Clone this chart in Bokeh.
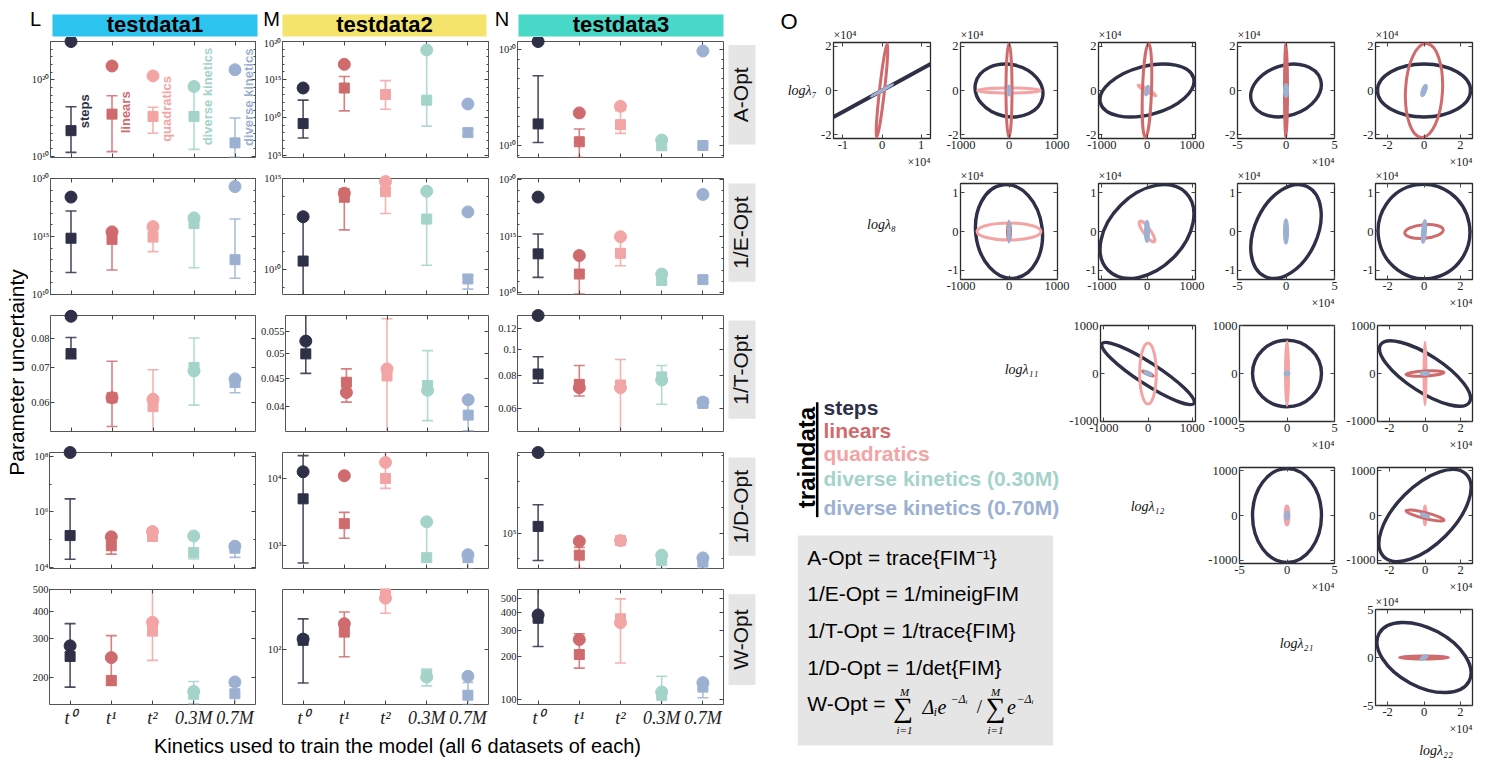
import numpy as np
from bokeh.core.properties import value
from bokeh.embed import file_html
from bokeh.layouts import column, row
from bokeh.models import CustomJSTickFormatter, FixedTicker, LinearAxis, LogAxis, Range1d
from bokeh.plotting import figure
from bokeh.resources import INLINE

SANS = "Liberation Sans"
SERIF = "Liberation Serif"
INK = "#444444"
nan = float("nan")

colors = ["#2d3047", "#cf6b6d", "#f3a4a4", "#a4d3ca", "#9cb1d2"]
series = ["steps", "linears", "quadratics", "diverse kinetics (0.30M)", "diverse kinetics (0.70M)"]
x_labels = ["t⁰", "t¹", "t²", "0.3M", "0.7M"]
criteria = ["A-Opt", "1/E-Opt", "1/T-Opt", "1/D-Opt", "W-Opt"]
testsets = ["testdata1", "testdata2", "testdata3"]
testset_colors = ["#2cc3ef", "#f4e46c", "#47d8c7"]

# ---- testdata1 ----
t1_A_circle = [1.0e25, 6.3e21, 3.2e20, 1.3e19, 2.0e21]
t1_A_square = [2.2e13, 3.2e15, 1.6e15, 1.6e15, 5.6e11]
t1_A_hi = [3.0e16, 7.9e17, 2.5e16, 1.3e19, 1.0e15]
t1_A_lo = [3.2e10, 4.0e10, 1.0e13, 7.9e10, 7.4e9]
t1_A_axis = ((6.8e9, 1.0e25), [1e10, 1e20], ["10¹⁰", "10²⁰"])
t1_A_name_y = [7.4e15, 5.5e15, 1.5e16, 6.3e17, 5.0e17]

t1_E_circle = [2.5e18, 2.5e15, 7.1e15, 4.0e16, 2.0e19]
t1_E_square = [7.1e14, 5.6e14, 8.9e14, 1.3e16, 1.0e13]
t1_E_hi = [1.6e17, 2.5e15, 3.2e15, 4.0e16, 3.2e16]
t1_E_lo = [7.9e11, 1.3e12, 5.0e13, 2.0e12, 2.5e11]
t1_E_axis = ((1e10, 1e20), [1e10, 1e15, 1e20], ["10¹⁰", "10¹⁵", "10²⁰"])

t1_T_circle = [0.0882, 0.0612, 0.0608, 0.0690, 0.0666]
t1_T_square = [0.0746, 0.0612, 0.0588, 0.0701, 0.0655]
t1_T_hi = [0.0802, 0.0721, 0.0694, 0.0800, 0.0666]
t1_T_lo = [0.0729, 0.0538, 0.0520, 0.0592, 0.0626]
t1_T_axis = ((0.0526, 0.0885), [0.06, 0.07, 0.08], ["0.06", "0.07", "0.08"])

t1_D_circle = [1.38e8, 1.26e5, 1.95e5, 1.35e5, 5.8e4]
t1_D_square = [1.4e5, 6.0e4, 1.3e5, 3.4e4, 4.9e4]
t1_D_hi = [2.95e6, 1.26e5, 1.95e5, 1.35e5, 5.8e4]
t1_D_lo = [1.95e4, 3.0e4, 9.8e4, 2.0e4, 2.3e4]
t1_D_axis = ((9.1e3, 1.38e8), [1e4, 1e6, 1e8], ["10⁴", "10⁶", "10⁸"])

t1_W_circle = [279, 247, 356, 174, 192]
t1_W_square = [250, 195, 325, 169, 170]
t1_W_hi = [351, 310, 520, 193, 184]
t1_W_lo = [182, 185, 240, 153, 150]
t1_W_axis = ((152, 500), [200, 300, 400, 500], ["200", "300", "400", "500"])

# ---- testdata2 ----
t2_A_circle = [7.9e13, 1.0e17, nan, 7.9e18, 6.3e11]
t2_A_square = [1.7e9, 7.9e13, 1.1e13, 2.0e12, 1.1e8]
t2_A_hi = [2.0e12, 2.5e15, 7.4e14, 7.9e18, 3.2e8]
t2_A_lo = [2.2e7, 7.9e10, 1.3e11, 7.9e8, 4.0e7]
t2_A_axis = ((6.0e4, 1.0e20), [1e5, 1e10, 1e15, 1e20], ["10⁵", "10¹⁰", "10¹⁵", "10²⁰"])

t2_E_circle = [7.9e12, 1.55e14, 6.8e14, 2.0e14, 1.45e13]
t2_E_square = [2.9e10, 9.3e13, 1.9e14, 5.9e12, 3.0e9]
t2_E_hi = [1.1e13, 2.7e14, 6.8e14, 2.0e14, 4.9e9]
t2_E_lo = [4.0e8, 1.5e12, 1.2e13, 1.7e10, 8.3e8]
t2_E_axis = ((4.2e8, 1.0e15), [1e10, 1e15], ["10¹⁰", "10¹⁵"])

t2_T_circle = [0.0528, 0.0424, 0.0469, 0.0428, 0.0411]
t2_T_square = [0.0500, 0.0443, 0.0455, 0.0437, 0.0385]
t2_T_hi = [0.0600, 0.0469, 0.0581, 0.0507, 0.0416]
t2_T_lo = [0.0460, 0.0407, 0.0355, 0.0376, 0.0360]
t2_T_axis = ((0.0359, 0.0589), [0.04, 0.045, 0.05, 0.055], ["0.04", "0.045", "0.05", "0.055"])

t2_D_circle = [1.26e4, 1.1e4, 1.74e4, 2.24e3, 7.2e2]
t2_D_square = [4.95e3, 2.1e3, 1.0e4, 6.5e2, 6.5e2]
t2_D_hi = [2.2e4, 3.1e3, 2.5e4, 2.24e3, 7.2e2]
t2_D_lo = [5.4e2, 1.27e3, 7.1e3, 5.8e2, 4.4e2]
t2_D_axis = ((447, 2.45e4), [1e3, 1e4], ["10³", "10⁴"])

t2_W_circle = [136, 219, 483, 42, 43]
t2_W_square = [131, 169, 550, 45, 24]
t2_W_hi = [254, 315, 640, 54, 35.5]
t2_W_lo = [35, 79, 302, 32, 18]
t2_W_axis = ((18, 631), [100], ["10²"])

# ---- testdata3 ----
t3_A_circle = [6.9e20, 2.6e13, 1.26e14, 3.9e10, 7.1e19]
t3_A_square = [1.86e12, 2.6e10, 1.55e12, 1.0e10, 1.07e10]
t3_A_hi = [1.9e17, 5.5e11, 4.6e13, 3.9e10, 1.74e10]
t3_A_lo = [2.2e10, 6.0e8, 1.95e11, 4.5e9, 6.6e9]
t3_A_axis = ((6.0e8, 6.9e20), [1e10, 1e20], ["10¹⁰", "10²⁰"])

t3_E_circle = [2.7e18, 1.9e13, 8.7e14, 4.5e11, 4.6e18]
t3_E_square = [2.7e13, 4.5e11, 3.0e13, 1.2e11, 1.45e11]
t3_E_hi = [1.5e15, 1.9e13, 8.7e14, 4.5e11, 2.8e11]
t3_E_lo = [2.3e11, 7.9e9, 2.4e12, 7.4e10, 7.4e10]
t3_E_axis = ((7.1e9, 1.17e20), [1e10, 1e15, 1e20], ["10¹⁰", "10¹⁵", "10²⁰"])

t3_T_circle = [0.1338, 0.0717, 0.0717, 0.0766, 0.0633]
t3_T_square = [0.0807, 0.0738, 0.0734, 0.0787, 0.0626]
t3_T_hi = [0.0937, 0.0869, 0.0915, 0.0869, 0.0655]
t3_T_lo = [0.0746, 0.0667, 0.0480, 0.0621, 0.0604]
t3_T_axis = ((0.0491, 0.1338), [0.06, 0.08, 0.1, 0.12], ["0.06", "0.08", "0.1", "0.12"])

t3_D_circle = [1.26e8, 4.8e4, 5.1e4, 1.4e4, 1.1e4]
t3_D_square = [1.8e5, 1.4e4, 5.1e4, 8.7e3, 7.6e3]
t3_D_hi = [1.23e6, 2.8e4, 6.8e4, 1.4e4, 1.1e4]
t3_D_lo = [8.7e3, 4.3e3, 3.6e4, 4.3e3, 4.3e3]
t3_D_axis = ((4.3e3, 1.26e8), [1e5], ["10⁵"])

t3_W_circle = [385, 260, 340, 113, 131]
t3_W_square = [365, 205, 362, 107, 122]
t3_W_hi = [600, 285, 497, 145, 131]
t3_W_lo = [233, 165, 179, 90, 103]
t3_W_axis = ((92.5, 577), [100, 200, 300, 400, 500], ["100", "200", "300", "400", "500"])

panels = [
    [(t1_A_circle, t1_A_square, t1_A_hi, t1_A_lo, t1_A_axis),
     (t2_A_circle, t2_A_square, t2_A_hi, t2_A_lo, t2_A_axis),
     (t3_A_circle, t3_A_square, t3_A_hi, t3_A_lo, t3_A_axis)],
    [(t1_E_circle, t1_E_square, t1_E_hi, t1_E_lo, t1_E_axis),
     (t2_E_circle, t2_E_square, t2_E_hi, t2_E_lo, t2_E_axis),
     (t3_E_circle, t3_E_square, t3_E_hi, t3_E_lo, t3_E_axis)],
    [(t1_T_circle, t1_T_square, t1_T_hi, t1_T_lo, t1_T_axis),
     (t2_T_circle, t2_T_square, t2_T_hi, t2_T_lo, t2_T_axis),
     (t3_T_circle, t3_T_square, t3_T_hi, t3_T_lo, t3_T_axis)],
    [(t1_D_circle, t1_D_square, t1_D_hi, t1_D_lo, t1_D_axis),
     (t2_D_circle, t2_D_square, t2_D_hi, t2_D_lo, t2_D_axis),
     (t3_D_circle, t3_D_square, t3_D_hi, t3_D_lo, t3_D_axis)],
    [(t1_W_circle, t1_W_square, t1_W_hi, t1_W_lo, t1_W_axis),
     (t2_W_circle, t2_W_square, t2_W_hi, t2_W_lo, t2_W_axis),
     (t3_W_circle, t3_W_square, t3_W_hi, t3_W_lo, t3_W_axis)],
]

# ---- panel O: confidence ellipses ----
lam_names = ["logλ₇", "logλ₈", "logλ₁₁", "logλ₁₂", "logλ₂₁", "logλ₂₂"]
lam_half = [2.17e4, 1.24e4, 1010, 1075, 5.0e4, 2.67e4]
lam_ticks = [[-2e4, 0, 2e4], [-1e4, 0, 1e4], [-1000, 0, 1000], [-1000, 0, 1000], [-5e4, 0, 5e4], [-2e4, 0, 2e4]]
lam_scale = [1e4, 1e4, 1, 1, 1e4, 1e4]

ell_panels = [(0, 0), (0, 1), (0, 2), (0, 3), (0, 4), (1, 1), (1, 2), (1, 3), (1, 4),
              (2, 2), (2, 3), (2, 4), (3, 3), (3, 4), (4, 4)]
steps_w = [76700, 1427, 2138, 74600, 51300, 1387, 2434, 64300, 50500, 2481, 72600, 59500, 72600, 65550, 56100]
steps_h = [300, 23560, 21810, 22680, 23990, 24330, 19240, 25680, 24430, 447, 1401, 772, 2101, 1297, 60510]
steps_ang = [28.7, -12, 15, 18, 0, 7, 45, -25, 10, -33, 0, -33, 0, 45, -28]
linears_w = [1280, 125, 200, 3090, 20370, 62, nan, 2060, 21250, 266, nan, 21250, nan, 22020, 26980]
linears_h = [42770, 42500, 42500, 42500, 42500, 4390, nan, 5000, 3510, 42, nan, 105, nan, 134, 3125]
linears_ang = [-6.5, 0, -2, 0, -3, 0, nan, 0, 5, -25, nan, 3, nan, -14, 0]
quadratics_w = [nan, 1312, 457, nan, nan, 1333, 155, nan, nan, 377, 3090, 1100, 4120, 1100, nan]
quadratics_h = [nan, 2260, 1356, nan, nan, 4390, 6460, nan, nan, 1284, 1338, 1313, 425, 425, nan]
quadratics_ang = [nan, 0, -30, nan, nan, 0, 35, nan, nan, 0, 0, 0, 0, 0, nan]
d03_w = [nan, nan, nan, nan, nan, nan, nan, nan, 800, nan, nan, nan, nan, nan, nan]
d03_h = [nan, nan, nan, nan, nan, nan, nan, nan, 4000, nan, nan, nan, nan, nan, nan]
d03_ang = [nan, nan, nan, nan, nan, nan, nan, nan, -5, nan, nan, nan, nan, nan, nan]
d07_w = [6390, 42, 44, 3090, 1650, 21, 66, 3090, 1650, 155, 4120, 4070, 3090, 4400, 3850]
d07_h = [270, 4070, 4070, 5425, 4970, 5425, 5270, 6100, 5680, 42, 63, 42, 157, 45, 2080]
d07_ang = [28.7, 0, -15, 0, -20, 0, 0, 0, -5, -25, 0, 0, 0, -20, 30]

ell_w = [steps_w, linears_w, quadratics_w, d03_w, d07_w]
ell_h = [steps_h, linears_h, quadratics_h, d03_h, d07_h]
ell_ang = [steps_ang, linears_ang, quadratics_ang, d03_ang, d07_ang]

EMPTY = CustomJSTickFormatter(code="return '';")


def pick_fmt(tick_values, tick_labels):
    return CustomJSTickFormatter(args=dict(tv=list(tick_values), tl=list(tick_labels)), code="""
        let best = 0, bd = Infinity;
        for (let i = 0; i < tv.length; i++) {
            const d = Math.abs(Math.log(tick / tv[i]));
            if (d < bd) { bd = d; best = i; }
        }
        return tl[best];
    """)


def inward(ax, size="10.5px", style="normal", standoff=2):
    ax.axis_line_color = None
    ax.major_tick_in = 4
    ax.major_tick_out = 0
    ax.minor_tick_in = 2
    ax.minor_tick_out = 0
    ax.major_tick_line_color = INK
    ax.minor_tick_line_color = INK
    ax.major_label_standoff = standoff
    ax.major_label_text_font = SERIF
    ax.major_label_text_font_style = style
    ax.major_label_text_font_size = size
    ax.major_label_text_color = "#222222"


def hidden(ax):
    inward(ax, "0px", standoff=0)
    ax.formatter = EMPTY


def blank_fig(w, h):
    p = figure(width=w, height=h, x_range=Range1d(0, w), y_range=Range1d(h, 0),
               x_axis_location=None, y_axis_location=None, min_border=0,
               output_backend="svg", toolbar_location=None)
    p.grid.visible = False
    p.outline_line_color = None
    return p


def ov_text(p, x, y, text, font=SERIF, size="12px", style="normal", color="#222222", **kw):
    # overlay level so that the text may sit outside the frame
    p.text(x=[x], y=[y], text=[text], text_font=value(font), text_font_size=size,
           text_font_style=style, text_color=color, level="overlay", **kw)


# ---------------- left block (panels L, M, N) ----------------
COLS = [(229, 21, 2, 1), (235, 25, 4, 1), (235, 25, 4, 1)]
ROW_TOP = [4, 6, 6, 6, 6]
ROW_BOT = [15, 15, 15, 15, 25]
xs = [1, 2, 3, 4, 5]


def scatter_fig(ri, ci):
    circ, sq, hi, lo, (yr, ticks, tlabels) = panels[ri][ci]
    width, lb, rb, so = COLS[ci]
    tb, bb = ROW_TOP[ri], ROW_BOT[ri]
    p = figure(width=width, height=tb + 116 + bb, y_axis_type="log",
               x_range=Range1d(0.5, 5.5), y_range=Range1d(*yr),
               min_border_left=lb, min_border_right=rb, min_border_top=tb, min_border_bottom=bb,
               output_backend="svg", toolbar_location=None)
    p.grid.visible = False
    p.outline_line_color = "#555555"
    p.outline_line_width = 1

    decade = all(abs(np.log10(t) - round(np.log10(t))) < 1e-9 for t in ticks)
    minor = []
    if decade:
        k0, k1 = int(np.floor(np.log10(yr[0]))), int(np.ceil(np.log10(yr[1])))
        minor = [10.0 ** k for k in range(k0, k1 + 1) if yr[0] <= 10.0 ** k <= yr[1] and 10.0 ** k not in ticks]
    yticker = FixedTicker(ticks=ticks, minor_ticks=minor)
    xticker = FixedTicker(ticks=xs)

    yax = p.yaxis[0]
    yax.ticker = yticker
    yax.formatter = pick_fmt(ticks, tlabels)
    inward(yax, standoff=so)
    xax = p.xaxis[0]
    xax.ticker = xticker
    if ri == 4:
        xax.formatter = CustomJSTickFormatter(args=dict(cats=x_labels),
                                              code="return cats[Math.round(tick) - 1] || '';")
        inward(xax, "18px", "italic", 3)
    else:
        hidden(xax)
    top = LinearAxis(ticker=xticker)
    hidden(top)
    p.add_layout(top, "above")
    right = LogAxis(ticker=yticker)
    hidden(right)
    p.add_layout(right, "right")

    p.segment(x0=xs, y0=lo, x1=xs, y1=hi, line_color=colors, line_width=1.6, line_alpha=0.85)
    for ends in (hi, lo):
        p.scatter(xs, ends, marker="dash", size=11, line_color=colors, line_width=1.6, line_alpha=0.85)
    p.scatter(xs, sq, marker="square", size=10, color=colors, level="overlay")
    p.scatter(xs, circ, marker="circle", size=12, color=colors, level="overlay")

    if ri == 0 and ci == 0:
        p.text(x=xs, y=t1_A_name_y, text=["steps", "linears", "quadratics", "diverse kinetics", "diverse kinetics"],
               angle=np.pi / 2, x_offset=13, text_align="center", text_baseline="middle",
               text_font=value(SANS), text_font_style="bold", text_font_size="13px", text_color=colors)
    return p


def crit_fig(ri):
    tb = ROW_TOP[ri]
    p = blank_fig(30, tb + 116 + ROW_BOT[ri])
    p.quad(left=1, right=28, top=tb, bottom=tb + 116, fill_color="#e5e5e5", line_color=None)
    p.text(x=[13], y=[tb + 58], text=[criteria[ri]], angle=np.pi / 2, text_align="center",
           text_baseline="middle", text_font=value(SANS), text_font_size="21px", text_color="#111111")
    return p


header = blank_fig(757, 37)
header.quad(left=[52, 282, 518], right=[257, 486, 723], top=[14, 14, 14], bottom=[36, 36, 36],
            fill_color=testset_colors, line_color=None)
header.text(x=[154.5, 384, 620.5], y=[24, 24, 24], text=testsets, text_align="center",
            text_baseline="middle", text_font=value(SANS), text_font_style="bold",
            text_font_size="22px", text_color="#000000")
header.text(x=[35, 271, 501.5], y=[18.5, 18.5, 18.5], text=["L", "M", "N"], text_align="center",
            text_baseline="middle", text_font=value(SANS), text_font_size="20px", text_color="#000000")

ylab = blank_fig(28, 693)
ylab.text(x=[15.5], y=[335], text=["Parameter uncertainty"], angle=np.pi / 2, text_align="center",
          text_baseline="middle", text_font=value(SANS), text_font_size="21px", text_color="#000000")

xlab = blank_fig(757, 29)
xlab.text(x=[397], y=[15], text=["Kinetics used to train the model (all 6 datasets of each)"],
          text_align="center", text_baseline="middle", text_font=value(SANS),
          text_font_size="20px", text_color="#000000")

left_rows = [row(scatter_fig(ri, 0), scatter_fig(ri, 1), scatter_fig(ri, 2), crit_fig(ri)) for ri in range(5)]
left_block = column(header, row(ylab, column(*left_rows)), xlab)


# ---------------- right block (panel O) ----------------
def lam_fmt(scale):
    return CustomJSTickFormatter(args=dict(sc=scale), code="return String(Math.round(tick / sc));")


def ellipse_fig(r, c, width, lb, rb, top, bottom):
    xv, yv = c + 1, r
    xh, yh = lam_half[xv], lam_half[yv]
    p = figure(width=width, height=top + 96 + bottom, x_range=Range1d(-xh, xh), y_range=Range1d(-yh, yh),
               min_border_left=lb, min_border_right=rb, min_border_top=top, min_border_bottom=bottom,
               output_backend="svg", toolbar_location=None)
    p.grid.visible = False
    p.outline_line_color = "#2a2a2a"
    p.outline_line_width = 1.3
    xt, yt = FixedTicker(ticks=lam_ticks[xv]), FixedTicker(ticks=lam_ticks[yv])
    xax, yax = p.xaxis[0], p.yaxis[0]
    xax.ticker, yax.ticker = xt, yt
    xax.formatter, yax.formatter = lam_fmt(lam_scale[xv]), lam_fmt(lam_scale[yv])
    inward(xax, "12.5px", standoff=2)
    inward(yax, "12.5px", standoff=2)
    ta, ra = LinearAxis(ticker=xt), LinearAxis(ticker=yt)
    hidden(ta)
    hidden(ra)
    p.add_layout(ta, "above")
    p.add_layout(ra, "right")

    k = ell_panels.index((r, c))
    for s in [0, 2, 1, 3, 4]:
        w, h, a = ell_w[s][k], ell_h[s][k], ell_ang[s][k]
        if np.isnan(w):
            continue
        p.ellipse(x=0, y=0, width=w, height=h, angle=a, angle_units="deg", fill_color=None,
                  line_color=colors[s], line_width=3.4 if s == 0 else 3)

    if lam_scale[yv] > 1:
        ov_text(p, -xh, yh, "×10⁴", size="12px", y_offset=-1, text_align="left", text_baseline="bottom")
    if lam_scale[xv] > 1:
        ov_text(p, xh, -yh, "×10⁴", size="12px", y_offset=16, text_align="right", text_baseline="top")
    if r == 0 and c == 0:
        ov_text(p, -xh, 0, lam_names[0], size="14px", style="italic", color="#111111",
                x_offset=-17, text_align="right", text_baseline="middle")
        ov_text(p, -xh, yh, "O", font=SANS, size="22px", color="#000000",
                x_offset=-53, y_offset=-34, text_align="left", text_baseline="top")
    if r == 4 and c == 4:
        ov_text(p, 0, -yh, lam_names[5], size="14px", style="italic", color="#111111",
                x_offset=12, y_offset=45, text_align="center", text_baseline="middle")
    return p


def lam_label_fig(w, h, x, y, name):
    p = blank_fig(w, h)
    p.text(x=[x], y=[y], text=[name], text_align="center", text_baseline="middle",
           text_font=value(SERIF), text_font_style="italic", text_font_size="14px", text_color="#111111")
    return p


band0 = row(ellipse_fig(0, 0, 187, 76, 14, 42, 30), ellipse_fig(0, 1, 138, 16, 25, 42, 30),
            ellipse_fig(0, 2, 139, 16, 26, 42, 30), ellipse_fig(0, 3, 138, 16, 25, 42, 30),
            ellipse_fig(0, 4, 125, 16, 12, 42, 30))
band1 = row(lam_label_fig(187, 142, 124, 60, lam_names[1]),
            ellipse_fig(1, 1, 138, 16, 25, 15, 31), ellipse_fig(1, 2, 139, 16, 26, 15, 31),
            ellipse_fig(1, 3, 138, 16, 25, 15, 31), ellipse_fig(1, 4, 125, 16, 12, 15, 31))
band2 = row(ellipse_fig(2, 2, 139, 32, 10, 15, 32), ellipse_fig(2, 3, 138, 32, 9, 15, 32),
            ellipse_fig(2, 4, 141, 32, 12, 15, 32))
band3 = row(lam_label_fig(139, 141, 81, 57, lam_names[3]),
            ellipse_fig(3, 3, 138, 32, 9, 14, 31), ellipse_fig(3, 4, 141, 32, 12, 14, 31))
band4 = row(lam_label_fig(293, 165, 230, 59, lam_names[4]), ellipse_fig(4, 4, 125, 16, 12, 15, 54))

# legend + formula box (lower-left corner of panel O)
big = blank_fig(309, 449)
big.text(x=[264], y=[59], text=[lam_names[2]], text_align="center", text_baseline="middle",
         text_font=value(SERIF), text_font_style="italic", text_font_size="14px", text_color="#111111")
big.text(x=[49], y=[147], text=["traindata"], angle=np.pi / 2, text_align="center", text_baseline="middle",
         text_font=value(SANS), text_font_style="bold", text_font_size="24px", text_color="#000000")
big.segment(x0=[59.7], y0=[91.7], x1=[59.7], y1=[206.7], line_color="#000000", line_width=2.5)
big.text(x=[66] * 5, y=[96.7, 120, 143.3, 168.3, 196.7], text=series, text_align="left",
         text_baseline="middle", text_font=value(SANS), text_font_style="bold",
         text_font_size="21px", text_color=colors)
big.quad(left=40.3, right=295.7, top=225, bottom=435, fill_color="#e5e5e5", line_color=None)
big.text(x=[49.7] * 5, y=[246.7, 283.3, 320, 357.3, 393.3],
         text=["A-Opt = trace{FIM⁻¹}", "1/E-Opt  =  1/mineigFIM", "1/T-Opt = 1/trace{FIM}",
               "1/D-Opt  = 1/det{FIM}", "W-Opt ="],
         text_align="left", text_baseline="middle", text_font=value(SANS), text_font_size="21px",
         text_color="#000000")
big.text(x=[145.5, 238], y=[396.7, 396.7], text=["∑", "∑"], text_align="center", text_baseline="middle",
         text_font=value(SERIF), text_font_size="28px", text_color="#000000")
big.text(x=[147, 147, 238, 238], y=[381, 419, 381, 419], text=["M", "i=1", "M", "i=1"],
         text_align="center", text_baseline="middle", text_font=value(SERIF), text_font_style="italic",
         text_font_size="11px", text_color="#000000")
big.text(x=[165, 249.5], y=[396, 396], text=["Δᵢe", "e"], text_align="left", text_baseline="middle",
         text_font=value(SERIF), text_font_style="italic", text_font_size="20px", text_color="#000000")
big.text(x=[193, 259], y=[388, 388], text=["−Δᵢ", "−Δᵢ"], text_align="left", text_baseline="middle",
         text_font=value(SERIF), text_font_style="italic", text_font_size="12px", text_color="#000000")
big.text(x=[222], y=[396], text=["/"], text_align="center", text_baseline="middle",
         text_font=value(SERIF), text_font_size="19px", text_color="#000000")

right_block = column(band0, band1, row(big, column(band2, band3, band4)))

page = row(left_block, right_block)
open("out.html", "w").write(file_html(page, INLINE))
